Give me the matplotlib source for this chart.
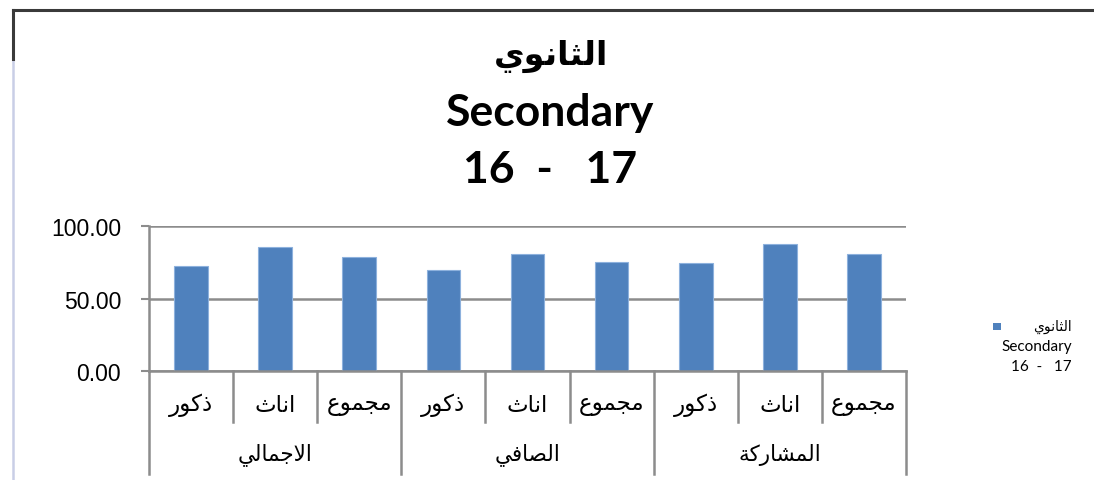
import numpy as np
import matplotlib.pyplot as plt
from matplotlib.lines import Line2D
from matplotlib.patches import Rectangle

# ------------------------------------------------------------------
# Data
# ------------------------------------------------------------------
groups = ['الاجمالي', 'الصافي', 'المشاركة']
subs = ['ذكور', 'اناث', 'مجموع']
values = [72.3, 86.0, 78.9, 69.9, 81.2, 75.4, 75.0, 87.8, 81.2]
yticks = [0, 50, 100]
title_ar = 'الثانوي'
title_en = 'Secondary'
title_years = '16  -   17'
legend_years = '16  -   17'

bar_color = '#4F81BD'
grid_color = '#8C8C8C'

# ------------------------------------------------------------------
# Minimal Arabic shaping (matplotlib has no complex text layout)
# ------------------------------------------------------------------
FORMS = {'ا': 0xFE8D, 'ة': 0xFE93, 'ث': 0xFE99, 'ج': 0xFE9D, 'ذ': 0xFEAB,
         'ر': 0xFEAD, 'ش': 0xFEB5, 'ص': 0xFEB9, 'ع': 0xFEC9, 'ف': 0xFED1,
         'ك': 0xFED9, 'ل': 0xFEDD, 'م': 0xFEE1, 'ن': 0xFEE5, 'و': 0xFEED,
         'ي': 0xFEF1}
RIGHT_ONLY = set('اةذرو')


def shape(word):
    toks = []
    i = 0
    while i < len(word):
        if word[i] == 'ل' and i + 1 < len(word) and word[i + 1] == 'ا':
            toks.append('LA')
            i += 2
        else:
            toks.append(word[i])
            i += 1

    def joins(t):
        return t in FORMS or t == 'LA'

    def joins_next(t):
        return t in FORMS and t not in RIGHT_ONLY

    out = []
    for k, t in enumerate(toks):
        prev = k > 0 and joins_next(toks[k - 1]) and joins(t)
        nxt = k + 1 < len(toks) and joins_next(t) and joins(toks[k + 1])
        if t == 'LA':
            out.append(chr(0xFEFC if prev else 0xFEFB))
            continue
        if t not in FORMS:
            out.append(t)
            continue
        if prev and nxt:
            off = 3
        elif prev:
            off = 1
        elif nxt:
            off = 2
        else:
            off = 0
        out.append(chr(FORMS[t] + off))
    return ''.join(reversed(out))


FAM = ['Lato', 'DejaVu Sans']
AR = ['DejaVu Sans']

# ------------------------------------------------------------------
# Figure
# ------------------------------------------------------------------
fig = plt.figure(figsize=(10.94, 4.81), dpi=100)
W, H = 1094, 481


def fx(px):
    return px / W


def fy(py):
    return 1 - py / H


ax = fig.add_axes([fx(149), fy(372.3), fx(906) - fx(149), fy(227.3) - fy(372.3)])

n_sub = len(subs)
x = np.arange(len(values))
ax.bar(x, values, width=0.4, color=bar_color, edgecolor='#8DB1DD', linewidth=0.8, zorder=3)

ax.set_xlim(-0.5, len(values) - 0.5)
ax.set_ylim(0, 100)
ax.set_yticks(yticks)
ax.set_yticklabels([f'{v:.2f}' for v in yticks], fontsize=16.5, family='Liberation Sans')
ax.tick_params(axis='y', length=6, width=1.5, color=grid_color, pad=14)
ax.set_xticks([])
ax.yaxis.grid(True, color=grid_color, linewidth=1.8, zorder=0)
for s in ['top', 'right', 'bottom']:
    ax.spines[s].set_visible(False)
ax.spines['left'].set_color(grid_color)
ax.spines['left'].set_linewidth(1.8)
ax.axhline(0, color=grid_color, linewidth=1.8, zorder=4, clip_on=False)

# multi-level category axis
trans = ax.get_xaxis_transform()
for i in range(len(values) + 1):
    xb = i - 0.5
    if i % n_sub == 0:
        y_end = (372.3 - 475) / 145.0
    else:
        y_end = (372.3 - 423) / 145.0
    ax.plot([xb, xb], [0, y_end], transform=trans, color=grid_color,
            linewidth=1.8, clip_on=False)

for i in range(len(values)):
    ax.text(i, (372.3 - 405) / 145.0, shape(subs[i % n_sub]), transform=trans,
            ha='center', va='center', fontsize=16.5, family=AR)

for g, name in enumerate(groups):
    xc = g * n_sub + (n_sub - 1) / 2
    ax.text(xc, (372.3 - 455) / 145.0, shape(name), transform=trans,
            ha='center', va='center', fontsize=15.5, family=AR)

# title
fig.text(fx(551), fy(56), shape(title_ar), ha='center', va='center',
         fontsize=24, fontweight='bold', family=AR)
fig.text(fx(550), fy(113), title_en, ha='center', va='center',
         fontsize=32, fontweight='bold', family=FAM)
fig.text(fx(550), fy(170), title_years, ha='center', va='center',
         fontsize=32, fontweight='bold', family=FAM)

# legend
fig.patches.append(Rectangle((fx(993), fy(331)), fx(8), 7 / H, transform=fig.transFigure,
                             facecolor=bar_color, edgecolor='none'))
fig.text(fx(1072), fy(327), shape(title_ar), ha='right', va='center', fontsize=10, family=AR)
fig.text(fx(1072), fy(347), title_en, ha='right', va='center', fontsize=11, family=FAM)
fig.text(fx(1072), fy(367), legend_years, ha='right', va='center', fontsize=11, family=FAM)

# outer frame
fig.add_artist(Line2D([fx(13), 1], [fy(11), fy(11)], transform=fig.transFigure,
                      color='#3A3A3A', linewidth=2.2))
fig.add_artist(Line2D([fx(13), fx(13)], [fy(11), 0], transform=fig.transFigure,
                      color='#C9CEE6', linewidth=1.8))
fig.add_artist(Line2D([fx(13), fx(13)], [fy(11), fy(60)], transform=fig.transFigure,
                      color='#3A3A3A', linewidth=2.2))

fig.savefig('out.png', dpi=100)
